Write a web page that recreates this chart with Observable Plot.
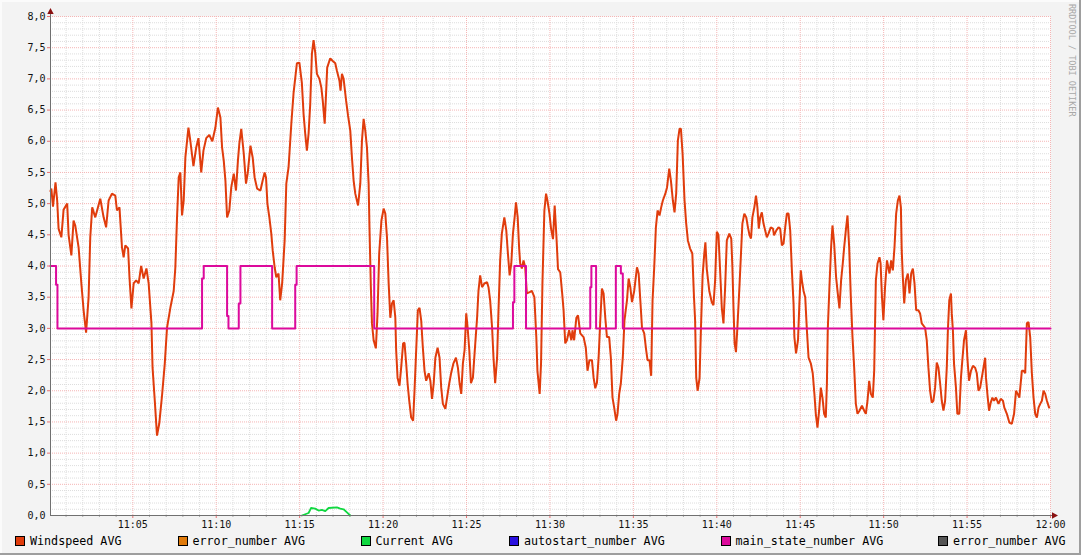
<!DOCTYPE html>
<html>
<head>
<meta charset="utf-8">
<script src="https://cdn.jsdelivr.net/npm/d3@7"></script>
<script src="https://cdn.jsdelivr.net/npm/@observablehq/plot@0.6"></script>
<style>
  html, body { margin: 0; padding: 0; background: #f3f3f3; }
  #wrap { position: relative; width: 1081px; height: 555px; background: #f3f3f3; overflow: hidden; font-family: "DejaVu Sans Mono", monospace; }
  #chart { position: absolute; left: 0; top: 0; }
  .leg { position: absolute; top: 536px; height: 11px; font-size: 11.7px; line-height: 11px; color: #000; white-space: pre; }
  .leg .sw { position: absolute; left: 0; top: 0; width: 8px; height: 8px; border: 1px solid #000; }
  .leg .tx { position: absolute; left: 15px; top: 0; }
  #mark { position: absolute; left: 1067px; top: 4px; width: 10px; height: 116px; line-height: 10px; writing-mode: vertical-rl; font-size: 8.5px; color: #a8a8a8; white-space: pre; overflow: hidden; }
  .bd { position: absolute; }
</style>
</head>
<body>
<div id="wrap">
  <div id="chart"></div>
  <div id="legend"></div>
  <div id="mark">RRDTOOL / TOBI OETIKER</div>
  <div class="bd" style="left:0;top:0;width:1081px;height:2px;background:#fbfbfb"></div>
  <div class="bd" style="left:0;top:0;width:2px;height:555px;background:#fbfbfb"></div>
  <div class="bd" style="left:0;top:553px;width:1081px;height:2px;background:#9e9e9e"></div>
  <div class="bd" style="left:1079px;top:0;width:2px;height:555px;background:#9e9e9e"></div>
</div>
<script>
// ---- data: [seconds after 11:00:00, value] ----
const windspeed = [
[4,5.2],[7,5.24],[13,4.95],[22,5.34],[28,5.05],[33,4.6],[43,4.46],[51,4.9],[64,5.0],[69,4.5],[79,4.17],[87,4.73],[93,4.65],[105,4.3],[115,3.72],[123,3.29],[132,2.93],[141,3.5],[147,4.46],[154,4.94],[165,4.78],[183,5.08],[195,4.78],[204,4.62],[213,5.05],[225,5.16],[237,5.13],[243,4.89],[252,4.94],[261,4.3],[267,4.14],[273,4.33],[283,4.28],[288,3.82],[295,3.32],[303,3.72],[312,3.77],[321,3.72],[330,4.0],[339,3.8],[349,3.96],[357,3.72],[367,3.08],[371,2.37],[379,1.84],[387,1.28],[395,1.47],[405,1.92],[415,2.44],[423,3.01],[435,3.33],[447,3.6],[453,3.98],[459,4.78],[465,5.42],[471,5.5],[477,4.81],[483,5.05],[489,5.74],[500,6.22],[507,6.0],[518,5.6],[528,5.9],[536,6.05],[546,5.5],[554,5.85],[564,6.05],[575,6.1],[586,6.0],[597,6.22],[606,6.54],[615,6.38],[621,5.9],[627,5.69],[633,5.37],[639,4.78],[647,4.89],[654,5.26],[663,5.48],[671,5.21],[678,5.69],[683,5.96],[690,6.2],[699,5.8],[707,5.32],[713,5.48],[723,5.93],[731,5.74],[738,5.42],[747,5.24],[759,5.21],[767,5.37],[774,5.5],[779,5.42],[784,5.0],[791,4.78],[798,4.52],[803,4.25],[810,3.98],[816,3.82],[824,3.88],[830,3.45],[837,3.72],[846,4.41],[852,5.32],[860,5.58],[870,6.28],[878,6.77],[890,7.25],[899,7.26],[908,6.93],[914,6.44],[920,6.12],[926,5.85],[932,6.12],[938,6.6],[944,7.4],[950,7.62],[956,7.42],[962,7.08],[971,7.0],[978,6.86],[983,6.65],[990,6.28],[995,6.77],[999,7.18],[1010,7.33],[1018,7.29],[1028,7.25],[1034,7.13],[1043,6.97],[1047,6.81],[1052,7.08],[1058,7.0],[1067,6.65],[1074,6.41],[1082,6.17],[1088,5.74],[1094,5.37],[1100,5.16],[1110,4.97],[1118,5.32],[1124,6.01],[1130,6.36],[1136,6.17],[1142,5.9],[1148,5.32],[1151,4.62],[1156,3.66],[1160,3.08],[1166,2.81],[1174,2.68],[1180,3.24],[1186,4.2],[1194,4.73],[1202,4.92],[1208,4.84],[1214,4.46],[1220,3.72],[1226,3.17],[1232,3.4],[1238,3.45],[1244,3.17],[1247,2.65],[1252,2.21],[1259,2.08],[1265,2.37],[1272,2.76],[1277,2.77],[1283,2.44],[1288,2.12],[1294,1.84],[1301,1.57],[1308,1.52],[1313,2.0],[1319,2.65],[1325,3.29],[1331,3.33],[1337,3.13],[1343,2.69],[1349,2.32],[1355,2.16],[1364,2.28],[1370,2.16],[1376,1.87],[1382,2.12],[1388,2.53],[1396,2.69],[1403,2.53],[1409,2.05],[1415,1.79],[1424,1.71],[1430,1.89],[1438,2.12],[1445,2.29],[1453,2.44],[1462,2.53],[1469,2.37],[1475,2.12],[1481,1.95],[1487,2.44],[1493,2.65],[1499,3.24],[1504,3.01],[1510,2.65],[1516,2.12],[1523,2.21],[1529,2.6],[1538,3.17],[1543,3.6],[1549,3.85],[1556,3.66],[1564,3.72],[1574,3.74],[1579,3.66],[1585,3.45],[1592,3.01],[1597,2.53],[1603,2.12],[1610,2.53],[1615,3.29],[1621,4.09],[1627,4.52],[1636,4.78],[1643,4.57],[1648,4.25],[1655,3.85],[1661,4.04],[1667,4.52],[1673,4.78],[1678,5.02],[1684,4.78],[1689,4.3],[1693,4.04],[1699,3.96],[1705,4.09],[1711,3.98],[1717,3.56],[1727,3.58],[1735,3.6],[1744,3.5],[1751,2.86],[1755,2.32],[1763,1.95],[1768,2.44],[1773,3.72],[1780,4.89],[1786,5.16],[1791,5.05],[1798,4.85],[1804,4.6],[1811,4.43],[1817,4.97],[1823,4.5],[1829,3.95],[1837,3.9],[1844,3.56],[1849,3.29],[1855,2.76],[1861,2.81],[1869,2.97],[1877,2.81],[1881,2.97],[1887,2.81],[1895,3.17],[1901,3.21],[1909,2.92],[1921,2.86],[1929,2.69],[1935,2.32],[1942,2.49],[1951,2.49],[1957,2.21],[1963,2.04],[1969,2.13],[1975,2.53],[1981,3.13],[1987,3.64],[1993,3.56],[1999,3.17],[2005,2.86],[2013,2.86],[2019,2.53],[2025,1.89],[2031,1.73],[2038,1.52],[2043,1.63],[2049,1.95],[2055,2.12],[2062,2.53],[2068,3.13],[2077,3.45],[2083,3.8],[2089,3.66],[2095,3.42],[2103,3.6],[2113,3.98],[2119,3.88],[2125,3.45],[2131,3.01],[2139,2.92],[2146,2.65],[2151,2.49],[2158,2.49],[2164,2.24],[2169,3.45],[2175,3.98],[2181,4.62],[2187,4.89],[2194,4.81],[2200,4.94],[2206,5.05],[2215,5.16],[2221,5.26],[2229,5.56],[2235,5.37],[2242,5.05],[2248,4.86],[2254,5.16],[2260,6.01],[2266,6.2],[2271,6.2],[2277,5.8],[2284,5.05],[2290,4.68],[2296,4.41],[2304,4.28],[2312,4.2],[2318,3.5],[2322,3.13],[2326,2.21],[2331,2.0],[2338,2.2],[2343,3.0],[2349,3.85],[2355,4.2],[2359,4.38],[2364,3.95],[2373,3.6],[2382,3.42],[2388,3.37],[2394,3.77],[2400,4.55],[2406,4.5],[2412,3.92],[2418,3.33],[2424,3.08],[2430,3.66],[2436,4.41],[2445,4.52],[2452,4.44],[2456,4.0],[2460,3.33],[2464,2.76],[2469,2.62],[2474,3.01],[2482,3.72],[2487,4.2],[2492,4.68],[2499,4.84],[2506,4.78],[2512,4.62],[2518,4.49],[2523,4.44],[2528,4.78],[2535,4.94],[2541,5.13],[2546,4.94],[2551,4.6],[2556,4.78],[2562,4.86],[2568,4.68],[2574,4.57],[2580,4.46],[2586,4.52],[2594,4.62],[2602,4.6],[2606,4.49],[2614,4.57],[2622,4.62],[2628,4.6],[2634,4.33],[2640,4.36],[2646,4.62],[2652,4.84],[2658,4.84],[2664,4.57],[2670,3.93],[2676,3.4],[2679,2.86],[2685,2.6],[2692,2.81],[2697,3.4],[2702,3.93],[2706,3.77],[2712,3.6],[2718,3.5],[2724,2.97],[2730,2.53],[2738,2.44],[2745,2.28],[2751,1.95],[2756,1.63],[2762,1.41],[2768,1.68],[2774,2.05],[2780,1.89],[2786,1.63],[2792,1.57],[2796,2.12],[2799,2.97],[2805,3.66],[2811,4.3],[2816,4.65],[2822,4.36],[2829,3.82],[2835,3.56],[2841,3.32],[2847,3.77],[2853,4.04],[2858,4.3],[2864,4.57],[2870,4.81],[2876,4.3],[2882,3.5],[2888,2.86],[2894,2.37],[2900,1.79],[2906,1.63],[2913,1.68],[2922,1.76],[2930,1.68],[2936,1.63],[2942,1.84],[2948,2.16],[2954,1.95],[2961,1.89],[2966,2.32],[2972,3.77],[2978,4.04],[2985,4.14],[2989,4.04],[2994,3.5],[2999,3.13],[3005,3.66],[3012,4.09],[3021,3.88],[3027,4.09],[3033,3.93],[3039,4.3],[3045,4.84],[3051,5.05],[3057,5.13],[3062,4.94],[3065,4.25],[3069,3.82],[3074,3.4],[3080,3.77],[3087,3.88],[3093,3.56],[3099,3.88],[3105,3.96],[3111,3.72],[3117,3.29],[3125,3.29],[3131,3.24],[3137,3.08],[3149,3.01],[3155,2.81],[3161,2.37],[3167,2.0],[3173,1.81],[3179,1.84],[3185,2.05],[3191,2.45],[3197,2.37],[3203,2.12],[3209,1.84],[3215,1.68],[3221,1.84],[3227,2.37],[3231,2.97],[3236,3.45],[3242,3.56],[3245,3.24],[3249,2.97],[3253,2.44],[3260,2.05],[3265,1.63],[3272,1.63],[3278,2.21],[3283,2.49],[3289,2.81],[3296,2.97],[3301,2.53],[3307,2.16],[3314,2.32],[3321,2.4],[3329,2.37],[3335,2.28],[3341,2.0],[3347,2.05],[3353,2.21],[3359,2.37],[3365,2.53],[3368,2.21],[3373,1.95],[3379,1.68],[3385,1.81],[3391,1.89],[3397,1.84],[3404,1.89],[3413,1.79],[3421,1.87],[3429,1.84],[3434,1.73],[3443,1.63],[3452,1.49],[3461,1.47],[3469,1.63],[3476,2.0],[3482,1.95],[3488,1.89],[3497,2.32],[3503,2.32],[3509,2.28],[3515,3.08],[3521,3.1],[3527,2.86],[3533,2.28],[3539,1.89],[3545,1.63],[3551,1.57],[3557,1.73],[3563,1.79],[3569,1.84],[3575,2.0],[3581,1.95],[3587,1.84],[3595,1.73]
];
const mainState = [
[4,4],[24,3.7],[29,3],[549,3.8],[555,4],[639,3.2],[644,3],[681,3.4],[687,4],[801,3],[884,3.7],[889,4],[1168,3],[1667,3.42],[1672,4],[1714,3],[1945,3.66],[1949,4],[1966,3],[2037,4],[2055,3.88],[2062,3],[3600,3]
];
const current = [
[908,0],[932,0.04],[941,0.12],[956,0.11],[968,0.08],[980,0.09],[992,0.07],[1004,0.12],[1034,0.13],[1046,0.11],[1058,0.1],[1070,0.05],[1082,0]
];
const yTicks = [0,0.5,1,1.5,2,2.5,3,3.5,4,4.5,5,5.5,6,6.5,7,7.5,8];
const xTickMinutes = [5,10,15,20,25,30,35,40,45,50,55,60];
const legendLabels = ["Windspeed AVG","error_number AVG","Current AVG","autostart_number AVG","main_state_number AVG","error_number AVG"];
const legendColors = ["#e03c0c","#e07a0a","#10d840","#2a10e0","#dc0a9c","#555555"];

// ---- layout / style ----
const legendLeft = [15, 177.5, 360.5, 509, 720.5, 938];
const BASE = new Date(2020, 0, 1, 11, 0, 0);
const T = s => new Date(BASE.getTime() + s * 1000);
const START = T(4), END = T(3600);

const wind = windspeed.map(([s, v]) => ({t: T(s), v}));
const state = mainState.map(([s, v]) => ({t: T(s), v}));
const cur = current.map(([s, v]) => ({t: T(s), v}));

const majorY = yTicks.filter(d => d > 0);
const minorY = d3.range(1, 80).map(i => i / 10).filter(d => Math.round(d * 10) % 5 !== 0);
const majorX = xTickMinutes.map(m => T(m * 60));
const minorX = d3.range(1, 60).filter(m => m % 5 !== 0).map(m => T(m * 60));

const upArrow = {draw(ctx) { ctx.moveTo(0, -8.5); ctx.lineTo(3.2, -2.5); ctx.lineTo(-3.2, -2.5); ctx.closePath(); }};
const rightArrow = {draw(ctx) { ctx.moveTo(7.5, 0); ctx.lineTo(1.5, -3.2); ctx.lineTo(1.5, 3.2); ctx.closePath(); }};

const fmtY = d => d.toFixed(1).replace(".", ",");
const fmtX = d3.timeFormat("%H:%M");

const chart = Plot.plot({
  width: 1081,
  height: 532,
  marginLeft: 50,
  marginRight: 31,
  marginTop: 16,
  marginBottom: 17,
  x: {type: "time", domain: [START, END], label: null},
  y: {domain: [0, 8], label: null},
  style: {background: "transparent", fontFamily: "'DejaVu Sans Mono', monospace", fontSize: "10px", color: "#000", overflow: "visible"},
  marks: [
    Plot.frame({fill: "#ffffff", stroke: "none"}),
    Plot.ruleY(minorY, {stroke: "#dddddd", strokeDasharray: "1,1"}),
    Plot.ruleX(minorX, {stroke: "#dddddd", strokeDasharray: "1,1"}),
    Plot.ruleY(majorY, {stroke: "#f5b5b5", strokeDasharray: "1,1"}),
    Plot.ruleX(majorX, {stroke: "#f5b5b5", strokeDasharray: "1,1"}),
    // axis tick marks
    Plot.ruleX(minorX, {x: d => d, y1: 0, y2: 0, insetBottom: -2, stroke: "#aaa"}),
    Plot.ruleX(majorX, {x: d => d, y1: 0, y2: 0, insetBottom: -3, stroke: "#e87070"}),
    Plot.ruleY(majorY, {y: d => d, x1: START, x2: START, insetLeft: -3, stroke: "#e87070"}),
    // series
    Plot.line(cur, {x: "t", y: "v", stroke: "#10d840", strokeWidth: 1.8}),
    Plot.line(wind, {x: "t", y: "v", stroke: "#e03c0c", strokeWidth: 2, strokeLinejoin: "miter"}),
    Plot.line(state, {x: "t", y: "v", stroke: "#dc0a9c", strokeWidth: 2, curve: "step-after"}),
    // axis lines
    Plot.ruleY([0], {stroke: "#707070", insetRight: -3}),
    Plot.ruleX([START], {stroke: "#707070", insetTop: -3}),
    Plot.dot([0], {x: START, y: 8, symbol: upArrow, r: 3, fill: "#8a1010", stroke: "none"}),
    Plot.dot([0], {x: END, y: 0, symbol: rightArrow, r: 3, fill: "#8a1010", stroke: "none"}),
    // axes labels
    Plot.axisY(yTicks, {tickSize: 0, tickPadding: 5, tickFormat: fmtY, fill: "#111", label: null}),
    Plot.axisX(majorX, {tickSize: 0, tickPadding: 5, tickFormat: fmtX, fill: "#111", label: null})
  ]
});
document.getElementById("chart").appendChild(chart);

const leg = document.getElementById("legend");
legendLabels.forEach((label, i) => {
  const d = document.createElement("div");
  d.className = "leg";
  d.style.left = legendLeft[i] + "px";
  d.innerHTML = `<span class="sw" style="background:${legendColors[i]}"></span><span class="tx"></span>`;
  d.querySelector(".tx").textContent = label;
  leg.appendChild(d);
});
</script>
</body>
</html>
